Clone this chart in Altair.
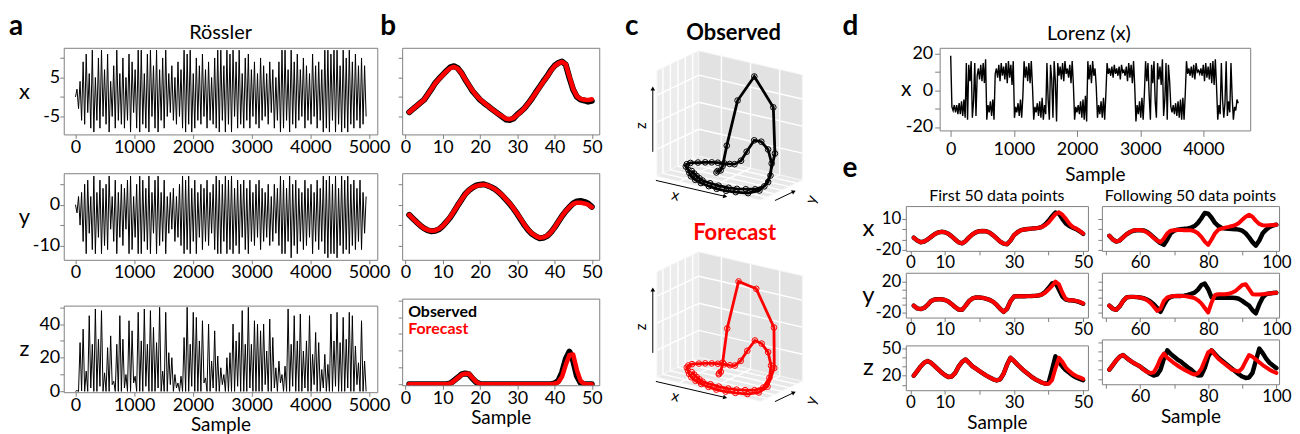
import json
import math
import altair as alt
import numpy as np
import pandas as pd

FONT = "Lato"
GRAY = "#808080"
RED = "#ff0000"

# ------------------------------------------------------------------ data
# Panel a: Rössler time series (alternating troughs/peaks)
ross_last_sample = 4950
ross_x = [
    0, 2, -3, 4, -6, 9, -7, 11, -4, 6, -8, 12, -9, 5, -6, 10, -8, 12, -5, 7,
    -7, 11, -9, 4, -5, 8, -8, 12, -6, 6, -7, 10, -8, 5, -6, 11, -9, 9, -4, 7,
    -8, 12, -9, 12, -7, 6, -8, 11, -9, 12, -5, 8, -8, 12, -9, 7, -6, 10, -8, 12,
    -5, 6, -4, 8, -6, 5, -7, 9, -5, 7, -8, 12, -9, 11, -7, 12, -9, 6, -8, 10,
    -6, 8, -7, 11, -5, 7, -8, 9, -6, 5, -7, 10, -8, 12, -9, 12, -6, 8, -9, 12,
    -7, 11, -9, 12, -5, 9, -8, 12, -7, 6, -8, 10, -6, 11, -8, 7, -5, 9, -7, 6,
    -8, 10, -6, 8, -5, 6, -7, 9, -4, 7, -8, 5, -6, 9, -9, 12, -8, 12, -6, 7,
    -9, 12, -7, 9, -8, 11, -6, 7, -5, 10, -8, 8, -6, 6, -7, 11, -5, 8, -8, 9,
    -6, 7, -9, 12, -8, 12, -9, 11, -6, 12, -9, 12, -7, 8, -9, 12, -8, 10, -9, 12,
    -7, 9, -8, 11, -6, 8, -8, 10, -7, 8, -5,
]
ross_y = [
    0, -2, 2, -5, 3, -9, 5, -12, 6, -7, 2, -11, 7, -12, 3, -8, 6, -12, 4, -10,
    5, -11, 7, -6, 2, -9, 6, -12, 3, -8, 5, -10, 4, -6, 6, -12, 7, -11, 2, -8,
    5, -12, 7, -12, 6, -9, 4, -11, 7, -12, 3, -7, 6, -12, 7, -10, 3, -9, 6, -12,
    2, -7, 3, -6, 4, -9, 2, -8, 5, -10, 7, -12, 6, -11, 7, -12, 4, -9, 6, -12,
    3, -8, 5, -11, 4, -9, 6, -10, 3, -7, 5, -11, 7, -12, 6, -12, 5, -9, 7, -12,
    6, -11, 7, -12, 4, -10, 6, -12, 5, -8, 6, -11, 4, -12, 6, -9, 3, -10, 5, -8,
    6, -11, 4, -9, 3, -8, 5, -10, 2, -9, 5, -7, 4, -10, 7, -12, 6, -12, 4, -9,
    7, -13, 5, -10, 6, -12, 4, -9, 3, -11, 6, -10, 4, -8, 5, -12, 3, -9, 6, -11,
    4, -9, 7, -12, 6, -13, 7, -12, 5, -12, 7, -13, 4, -10, 7, -12, 6, -11, 7, -12,
    5, -10, 6, -11, 4, -9, 6, -11, 3, -7, 2,
]
ross_z = [
    0, 0.5, 0, 29, 0.2, 37, 0, 12, 0, 45, 2, 28, 0, 49, 0, 31, 3, 48, 0, 11,
    0, 26, 0, 33, 4, 6, 0, 28, 0, 45, 0, 31, 2, 10, 0, 42, 0, 36, 5, 9,
    0, 47, 0, 30, 0, 49, 3, 28, 0, 48, 0, 38, 0, 29, 2, 50, 0, 12, 0, 47,
    0, 23, 4, 20, 0, 10, 2, 5, 0, 9, 0, 32, 0, 50, 0, 28, 3, 47, 0, 44,
    0, 30, 0, 42, 5, 8, 0, 40, 0, 18, 2, 36, 0, 21, 0, 14, 4, 10, 0, 20,
    0, 23, 0, 40, 0, 30, 3, 35, 0, 48, 0, 28, 0, 50, 2, 28, 0, 42, 0, 40,
    0, 36, 0, 40, 4, 24, 0, 43, 0, 32, 2, 14, 0, 18, 5, 10, 0, 15, 0, 49,
    0, 28, 3, 45, 0, 30, 0, 46, 0, 24, 2, 30, 0, 45, 0, 22, 4, 35, 0, 29,
    0, 13, 2, 22, 0, 16, 0, 46, 0, 30, 3, 47, 0, 29, 0, 44, 0, 31, 2, 47,
    0, 45, 0, 27, 4, 17, 0, 42, 0, 18, 0,
]

# Panel b: first 50 samples, observed vs forecast
b_sample = list(range(1, 51))
b_x_obs = [-3.9, -3.1, -2.3, -1.5, -0.7, 0.7, 2.1, 3.6, 4.7, 5.7, 6.7, 7.6, 7.9, 7.4, 6.2, 4.5, 3.0,
           1.5, 0.4, -0.7, -1.5, -2.2, -3.0, -3.7, -4.4, -5.1, -5.8, -5.9, -5.5, -4.5, -3.7, -2.8,
           -1.6, -0.3, 1.2, 2.6, 4.0, 5.3, 6.8, 8.0, 8.7, 9.1, 8.3, 4.9, 1.9, 0.0, -0.7, -0.9, -1.2, -1.0]
b_x_fc = [-3.9, -3.1, -2.3, -1.5, -0.7, 0.7, 2.1, 3.5, 4.6, 5.6, 6.6, 7.4, 7.7, 7.3, 6.2, 4.6, 3.1,
          1.6, 0.4, -0.6, -1.4, -2.2, -3.0, -3.7, -4.4, -5.0, -5.6, -5.7, -5.4, -4.6, -3.8, -2.8,
          -1.6, -0.3, 1.1, 2.5, 3.9, 5.2, 6.7, 7.9, 8.6, 9.0, 8.4, 5.2, 2.1, 0.2, -0.5, -0.7, -0.8, -0.6]
b_y_obs = [-2.5, -3.4, -4.3, -5.1, -5.8, -6.3, -6.5, -6.4, -6.0, -5.2, -4.2, -3.1, -1.7, -0.2, 1.2,
           2.6, 3.5, 4.2, 4.7, 4.9, 5.0, 4.7, 4.3, 3.8, 3.1, 2.2, 1.2, 0.2, -1.0, -2.3, -3.7, -5.1,
           -6.3, -7.2, -7.8, -8.2, -8.1, -7.7, -6.8, -5.6, -4.2, -2.8, -1.6, -0.6, 0.3, 0.8, 0.9,
           0.7, 0.3, -0.5]
b_y_fc = [-2.5, -3.4, -4.3, -5.1, -5.8, -6.2, -6.4, -6.3, -5.9, -5.2, -4.2, -3.0, -1.6, -0.2, 1.2,
          2.5, 3.5, 4.2, 4.6, 4.8, 4.9, 4.7, 4.3, 3.8, 3.1, 2.3, 1.3, 0.3, -0.9, -2.2, -3.6, -5.0,
          -6.2, -7.1, -7.7, -8.1, -8.0, -7.6, -6.8, -5.6, -4.2, -2.8, -1.6, -0.6, 0.2, 0.5, 0.5,
          0.3, 0.0, -0.6]
b_z_obs = [0.1, 0.1, 0.1, 0.1, 0.1, 0.1, 0.1, 0.1, 0.1, 0.1, 0.1, 0.6, 2.3, 4.0, 5.9, 6.5, 6.1, 3.4,
           1.3, 0.3, 0.1, 0.1, 0.1, 0.1, 0.1, 0.1, 0.1, 0.1, 0.1, 0.1, 0.1, 0.1, 0.1, 0.1, 0.1, 0.1,
           0.1, 0.1, 0.1, 0.6, 2.0, 7.0, 15.0, 19.5, 14.0, 5.0, 1.0, 0.2, 0.1, 0.1]
b_z_fc = [0.1, 0.1, 0.1, 0.1, 0.1, 0.1, 0.1, 0.1, 0.1, 0.1, 0.1, 0.5, 2.0, 3.8, 5.6, 6.4, 6.3, 3.8,
          1.5, 0.3, 0.1, 0.1, 0.1, 0.1, 0.1, 0.1, 0.1, 0.1, 0.1, 0.1, 0.1, 0.1, 0.1, 0.1, 0.1, 0.1,
          0.1, 0.1, 0.1, 0.4, 1.3, 4.5, 11.5, 17.5, 17.8, 8.5, 2.0, 0.3, 0.1, 0.1]

# Panel d: Lorenz x (alternating oscillation extremes)
lorenz_last_sample = 4550
lorenz_x = [
    19, -9, -11, -8, -12, -8, -13, -7, -13, -6, -14, -5, -15,
    15, -16, 14, 5, 16, -15, -6, 15, -14,
    8, 12, 6, 14, 5, 15, 4, 17,
    -16, -8, -12, -6, -14, -5, -16,
    9, 12, 7, 14, 5, 15, 8, 13, 6, 15, 4, 16, 7, 14, 3, 16,
    -15, -9, -12, -7, -14, -5, -15, -3,
    16, 7, 13, 5, 15, 4, 16, 2,
    -16, -9, -12, -7, -14, -6, -15, -4, -16, -8, -13,
    15, -5, -16, 14, 6, -15, 16, 5, -17, 15,
    8, 13, 6, 15, 5, 16, 9, 12, 7, 14, 4, 16, 3,
    -16, -9, -12, -8, -13, -6, -15, -5, -16, -3, -17,
    16, 6, 14, 4, 16, 8, 12, 2,
    -15, -8, -13, -6, -15, -4, -16, -2,
    15, 9, 12, 8, 13, 7, 14, 9, 12, 8, 13, 6, 14, 10, 11, 8, 13, 5, 15, 7, 14, 4, 16, 2,
    -17, -8, -13, -6, -15, -4, -16, -2,
    16, 5, 15, -3, -16, 14, 4, 16, -6, -15, 15, 6, 13, 3, 17, -14, -5, 15, -16, 14, 5,
    -9, -12, -8, -13, -7, -14, -6, -15, -5, -16, -4, -16, -2,
    16, 9, 12, 8, 13, 7, 14, 6, 15, 10, 11, 9, 12, 8, 14, 5, 15, 7, 13, 6, 15, 4, 16, 3, 17, 2,
    -16, -8, -13, 15, -5, -15, -7, 16, -14, -6, -12, 15, -4, -16, -9, -11, -5, -7,
]

# Panel e: Lorenz forecasts
e_sample_first = list(range(1, 51))
e_sample_next = list(range(51, 101))
e_x_obs_1 = [-8.3, -11, -12.7, -12, -10, -7.5, -5, -3.3, -2.6, -3, -4.5, -7, -10, -12.8, -13.7, -11.5,
             -8, -5, -3, -2, -1.7, -2, -3.5, -6, -9, -12, -14, -14.6, -11, -5.8, -3, -1, -0.3, 0.2,
             0.5, 0.8, 1.2, 2, 4.5, 8, 12.5, 16, 15, 10, 5.5, 3, 1.5, 0, -2, -4.5]
e_x_fc_1 = [-8.3, -11, -12.7, -12, -10, -7.5, -5, -3.3, -2.6, -3, -4.5, -7, -10, -12.8, -13.7, -11.5,
            -8, -5, -3, -2, -1.7, -2, -3.5, -6, -9, -12, -14, -14.6, -11, -5.8, -3, -1, -0.3, 0.2,
            0.5, 0.8, 1.2, 2, 3.7, 6.5, 10.6, 14.7, 16.3, 14, 10, 5.3, 2.1, 0.5, -1.5, -4.2]
e_y_obs_1 = [-11, -14.5, -15.5, -14, -10, -5, -3, -2.5, -2.6, -3.5, -5.5, -9, -13, -16, -16.4, -11,
             -5, -1.5, -0.3, -0.3, -0.8, -2, -3.5, -6, -10, -15, -19, -15, -5, 1, 1.2, 1.3, 1.4,
             1.5, 1.6, 1.8, 2.3, 3.5, 7, 12, 18, 19, 10, 1, -3, -4, -4.2, -5, -6.5, -8.5]
e_y_fc_1 = [-11, -14.5, -15.5, -14, -10, -5, -3, -2.5, -2.6, -3.5, -5.5, -9, -13, -16, -16.4, -11,
            -5, -1.5, -0.3, -0.3, -0.8, -2, -3.5, -6, -10, -15, -19, -15, -5, 1, 1.2, 1.3, 1.4,
            1.5, 1.6, 1.8, 2.3, 3.5, 6, 10, 14.8, 20.4, 17, 6, -2.5, -3.8, -4, -4.7, -6, -8]
e_z_obs_1 = [20, 25, 30, 34, 35.9, 34, 30.5, 27, 23.5, 20.7, 18.5, 19, 23, 30, 35, 37.6, 34, 30,
             27.5, 25, 22.5, 20, 18, 16, 14.7, 16, 22, 32, 39.4, 36, 32, 28.5, 25, 22, 19, 16.4,
             14.5, 12.5, 11.2, 12, 26, 41, 35, 30, 26, 23, 20, 18, 16.5, 15]
e_z_fc_1 = [20, 25, 30, 34, 35.9, 34, 30.5, 27, 23.5, 20.7, 18.5, 19, 23, 30, 35, 37.6, 34, 30,
            27.5, 25, 22.5, 20, 18, 16, 14.7, 16, 22, 32, 39.4, 36, 32, 28.5, 25, 22, 19, 16.4,
            14.5, 12.5, 11.2, 11, 15, 28, 39.4, 35, 28.8, 25, 21.7, 19.5, 18, 16.4]
e_x_obs_2 = [-6.4, -10, -12, -11, -8, -5, -3, -1.5, -1, -1, -1.2, -2.5, -5, -8, -11, -13.5, -15.2,
             -10, -4, -1.5, -0.5, 0, 0.3, 0.7, 1.5, 3, 6, 10.5, 15.7, 15, 11, 6, 3, 1.2, 0.5, 0.3,
             0.2, 0, -0.5, -1.5, -4, -8, -12.5, -15.9, -11, -4, -0.5, 2, 3.5, 4.3]
e_x_fc_2 = [-6.4, -10, -12, -11, -8, -5, -2.8, -1.3, -0.8, -0.8, -1.5, -3, -5.5, -8.5, -11, -12.7,
            -9, -4, -1.5, -1, -0.8, -0.8, -1, -1, -1.2, -2, -4, -7.5, -12, -15.2, -10, -4, -0.5,
            0.5, 1.5, 2.2, 3, 4, 6, 9, 12, 13.8, 12, 8, 5, 3.7, 3.5, 3.8, 4.1, 4.3]
e_y_obs_2 = [-11, -15, -16.4, -12, -5, -0.3, 0.5, 0.5, 0.2, -0.3, -1.2, -3, -5.5, -9, -14, -19, -10,
             -2.5, 0.5, 1.5, 1.8, 1.8, 2, 3, 4.5, 6, 10, 16, 17.8, 10.5, -0.3, -0.8, -0.6, -0.5,
             -0.5, -0.5, -0.6, -1, -2, -4.7, -8, -11, -17, -21, -9, -0.3, 4, 5, 5.5, 6]
e_y_fc_2 = [-11, -15, -16.4, -12, -5, -0.3, 0.5, 0.5, 0.2, -0.3, -1.5, -3.5, -7, -12, -17.7, -15,
            -4.7, -0.3, 1, 1.8, 1.8, 1.8, 1.5, 1, 0, -1.2, -4, -8, -14, -19.8, -6.8, 3, 4, 4, 4,
            4.5, 6, 8.3, 12, 16, 17, 10.5, 4, 3.5, 3.5, 4, 4.5, 5, 5.5, 6]
e_z_obs_2 = [20, 25, 30, 34, 35.9, 33, 30, 27.5, 25.5, 23.5, 20.5, 18, 15.5, 13.6, 14.5, 20, 32, 41,
             37, 34, 31, 28.8, 25.5, 22.5, 20, 16.5, 13.6, 14, 22, 34, 41, 37, 33, 30, 27, 24, 21,
             18, 15, 12.5, 11, 11.5, 16.4, 30, 43, 38, 32, 27.5, 24.5, 21.7]
e_z_fc_2 = [20, 25, 30, 34, 35.9, 33, 30, 27.5, 25.5, 23.5, 20, 17.5, 16.4, 17, 23.5, 32, 37.6, 33,
            30, 27, 24.5, 22, 20, 18, 16, 14.7, 16, 21, 30, 39, 41, 36, 32, 28.8, 26, 23, 20, 19,
            18, 21.7, 29, 35.9, 34, 31, 28, 25, 22.5, 20, 18, 16.4]

# tick values / which tick labels are printed
a_x_ticks = [0, 1000, 2000, 3000, 4000, 5000]
b_x_ticks = [0, 10, 20, 30, 40, 50]
d_x_ticks = [0, 1000, 2000, 3000, 4000]
rx_ticks, rx_labels = [-5, 0, 5, 10], [-5, 5]
ry_ticks, ry_labels = [-10, -5, 0, 5], [-10, 0]
rz_ticks, rz_labels = [0, 10, 20, 30, 40, 50], [0, 20, 40]
lz_ticks, lz_labels = [-20, -10, 0, 10, 20], [-20, 0, 20]
e_first_ticks, e_first_labels = [0, 10, 20, 30, 40, 50], [0, 10, 30, 50]
e_next_ticks, e_next_labels = [50, 60, 70, 80, 90, 100], [60, 80, 100]
ex_ticks, ex_labels = [-20, -10, 0, 10], [-20, 10]
ey_ticks, ey_labels = [-20, -10, 0, 10, 20], [-20, 20]
ez_ticks, ez_labels = [10, 20, 30, 40, 50], [20, 50]

# 3-D box of panel c
BOX_X, BOX_Y, BOX_Z = [-6.5, 9.5], [-8.5, 5.5], [0, 19.5]
GRID_X, GRID_Y, GRID_Z = [-3, 1.5, 6], [-6.5, -4, -1.5, 1, 3.5], [5, 10, 15]
PU, PV, PW = (104, -24), (42, 20), 106


# ------------------------------------------------------------------ helpers
def lab_expr(show):
    return "indexof(%s, datum.value) >= 0 ? toString(datum.value) : ''" % json.dumps(show)


def x_axis(ticks, show, title=None, tick=4, pad=0, fs=18, tpad=1):
    kw = dict(values=ticks, tickSize=tick, labelPadding=pad, labelFontSize=fs, labelFont=FONT,
              labelColor="black", domain=False, grid=False, tickColor=GRAY, labelOverlap=False)
    if show is None:
        kw["labels"] = False
    else:
        kw["labelExpr"] = lab_expr(show)
    if title:
        kw.update(title=title, titleFont=FONT, titleFontSize=19, titleFontWeight="normal",
                  titleColor="black", titlePadding=tpad)
    else:
        kw["title"] = None
    return alt.Axis(**kw)


def y_axis(ticks, show, title=None, tx=0, h=0, tick=4, pad=0, fs=18, tfs=22):
    kw = dict(values=ticks, tickSize=tick, labelPadding=pad, labelFontSize=fs, labelFont=FONT,
              labelColor="black", domain=False, grid=False, tickColor=GRAY, labelOverlap=False)
    if show is None:
        kw["labels"] = False
    else:
        kw["labelExpr"] = lab_expr(show)
    if title:
        kw.update(title=title, titleFont=FONT, titleFontSize=tfs, titleFontWeight="normal",
                  titleColor="black", titleAngle=0, titleX=tx, titleY=h / 2,
                  titleAlign="center", titleBaseline="middle")
    else:
        kw["title"] = None
    return alt.Axis(**kw)


def txt(s, x, y, size, weight="normal", color="black", align="left", opacity=1.0):
    return alt.Chart(pd.DataFrame({"t": [s]})).mark_text(
        font=FONT, fontSize=size, fontWeight=weight, align=align, baseline="alphabetic",
        color=color, opacity=opacity).encode(text="t:N", x=alt.value(x), y=alt.value(y))


LETTER_Y = -13


def letter(ch, x, y=LETTER_Y, opacity=1.0):
    return txt(ch, x, y, 28, "bold", opacity=opacity)


def spacer(w, h, extra=()):
    base = alt.Chart(pd.DataFrame({"t": [""]})).mark_text(opacity=0).encode(
        text="t:N", x=alt.value(0), y=alt.value(0))
    return alt.layer(base, *extra).properties(width=w, height=h,
                                              view=alt.ViewBackground(stroke="transparent"))


def sc(dom):
    return alt.Scale(domain=dom, nice=False, zero=False)


# ------------------------------------------------------------------ panel a
A_W, A_H = 315, 87


def a_panel(vals, ydom, yt, ys, ytitle, xtitle=None, extra=()):
    df = pd.DataFrame({"s": np.linspace(0, ross_last_sample, len(vals)), "v": vals})
    line = alt.Chart(df).mark_line(color="black", strokeWidth=1.0, clip=True).encode(
        x=alt.X("s:Q", scale=sc([-200, 5140]), axis=x_axis(a_x_ticks, a_x_ticks, xtitle)),
        y=alt.Y("v:Q", scale=sc(ydom), axis=y_axis(yt, ys, ytitle, -40, A_H)))
    return alt.layer(line, *extra).properties(width=A_W, height=A_H)


a1 = a_panel(ross_x, [-9.6, 12.6], rx_ticks, rx_labels, "x",
             extra=(letter("a", -55), letter("b", 318),
                    txt("Rössler", A_W / 2, -9, 20, align="center")))
a2 = a_panel(ross_y, [-13.5, 7.7], ry_ticks, ry_labels, "y")
a3 = a_panel(ross_z, [-0.5, 51], rz_ticks, rz_labels, "z", xtitle="Sample")

# ------------------------------------------------------------------ panel b
B_W, B_H = 198, 87


def b_panel(obs, fc, ydom, yt, xtitle=None, extra=()):
    df = pd.DataFrame({"s": b_sample, "obs": obs, "fc": fc})
    base = alt.Chart(df)
    xe = alt.X("s:Q", scale=sc([-0.9, 52]), axis=x_axis(b_x_ticks, b_x_ticks, xtitle))
    l1 = base.mark_line(color="black", strokeWidth=6, strokeCap="round", strokeJoin="round",
                        clip=True).encode(x=xe, y=alt.Y("obs:Q", scale=sc(ydom), axis=y_axis(yt, None)))
    l2 = base.mark_line(color=RED, strokeWidth=4.5, strokeCap="round", strokeJoin="round",
                        clip=True).encode(x=xe, y=alt.Y("fc:Q", scale=sc(ydom), axis=y_axis(yt, None)))
    return alt.layer(l1, l2, *extra).properties(width=B_W, height=B_H)


b1 = b_panel(b_x_obs, b_x_fc, [-9.6, 12.6], rx_ticks, extra=(letter("b", 50, opacity=0),))
b2 = b_panel(b_y_obs, b_y_fc, [-13.5, 7.7], ry_ticks)
b3 = b_panel(b_z_obs, b_z_fc, [-0.5, 51], rz_ticks, xtitle="Sample",
             extra=(txt("Observed", 6, 18, 16, "bold"), txt("Forecast", 6, 36, 16, "bold", RED)))

# ------------------------------------------------------------------ panel c
C_W, C_H = 230, 165
C_XD, C_YD = [-53, 177], [-36, 129]


def proj(ch, xf, yf, zf, ox, oy):
    u = "((datum.%s-(%s))/%s)" % (xf, BOX_X[0], BOX_X[1] - BOX_X[0])
    v = "((datum.%s-(%s))/%s)" % (yf, BOX_Y[0], BOX_Y[1] - BOX_Y[0])
    w = "((datum.%s-(%s))/%s)" % (zf, BOX_Z[0], BOX_Z[1] - BOX_Z[0])
    return ch.transform_calculate(**{
        ox: "%s*%s+%s*%s" % (PU[0], u, PV[0], v),
        oy: "%s*%s+%s*%s+%s*%s" % (PU[1], u, PV[1], v, PW, w),
    })


x0, x1 = BOX_X
y0, y1 = BOX_Y
z0, z1 = BOX_Z
rx, ry, rz = x1 - x0, y1 - y0, z1 - z0
panes = {
    "left": ([(x0, y0, z0), (x0, y1, z0), (x0, y1, z1), (x0, y0, z1), (x0, y0, z0)], "#ececec"),
    "right": ([(x0, y1, z0), (x1, y1, z0), (x1, y1, z1), (x0, y1, z1), (x0, y1, z0)], "#e2e2e2"),
    "floor": ([(x0, y0, z0), (x1, y0, z0), (x1, y1, z0), (x0, y1, z0), (x0, y0, z0)], "#e8e8e8"),
}
segs = []
for gy in GRID_Y:
    segs.append((x0, gy, z0, x0, gy, z1))
    segs.append((x0, gy, z0, x1, gy, z0))
for gz in GRID_Z:
    segs.append((x0, y0, gz, x0, y1, gz))
    segs.append((x0, y1, gz, x1, y1, gz))
for gx in GRID_X:
    segs.append((gx, y1, z0, gx, y1, z1))
    segs.append((gx, y0, z0, gx, y1, z0))
seg_df = pd.DataFrame(segs, columns=["X", "Y", "Z", "X2", "Y2", "Z2"])

arrows = [  # start, end in box fractions
    ((x0 + 0.05 * rx, y0 - 0.15 * ry, z0), (x0 + 0.72 * rx, y0 - 0.15 * ry, z0)),
    ((x0, y0 - 0.1 * ry, z0 + 0.25 * rz), (x0, y0 - 0.1 * ry, z0 + 0.85 * rz)),
    ((x1 + 0.1 * rx, y0 + 0.1 * ry, z0), (x1 + 0.1 * rx, y0 + 0.55 * ry, z0)),
]
arr_df = pd.DataFrame([a + b for a, b in arrows], columns=["X", "Y", "Z", "X2", "Y2", "Z2"])


def screen_dir(a, b):
    du = (b[0] - a[0]) / rx
    dv = (b[1] - a[1]) / ry
    dw = (b[2] - a[2]) / rz
    ax = PU[0] * du + PV[0] * dv
    ay = PU[1] * du + PV[1] * dv + PW * dw
    return math.degrees(math.atan2(ax, ay)) % 360


head_df = pd.DataFrame([dict(X=b[0], Y=b[1], Z=b[2], ang=screen_dir(a, b)) for a, b in arrows])
lab_df = pd.DataFrame([
    dict(X=x0 + 0.38 * rx, Y=y0 - 0.5 * ry, Z=z0, t="x", ang=13),
    dict(X=x0, Y=y0 - 0.38 * ry, Z=z0 + 0.55 * rz, t="z", ang=270),
    dict(X=x1 + 0.32 * rx, Y=y0 + 0.42 * ry, Z=z0, t="y", ang=290),
])


def c_panel(X, Y, Z, color, extra=()):
    xe = alt.X("px:Q", scale=sc(C_XD), axis=None)
    ye = alt.Y("py:Q", scale=sc(C_YD), axis=None)
    layers = []
    for name, (pts, fill) in panes.items():
        pdf = pd.DataFrame([dict(X=p[0], Y=p[1], Z=p[2], k=i) for i, p in enumerate(pts)])
        layers.append(proj(alt.Chart(pdf), "X", "Y", "Z", "px", "py").mark_line(
            fill=fill, stroke="#f5f5f5", strokeWidth=1).encode(x=xe, y=ye, order="k:Q"))
    g = proj(proj(alt.Chart(seg_df), "X", "Y", "Z", "px", "py"), "X2", "Y2", "Z2", "px2", "py2")
    layers.append(g.mark_rule(color="white", strokeWidth=1.4).encode(x=xe, y=ye, x2="px2:Q", y2="py2:Q"))
    tdf = pd.DataFrame({"X": X, "Y": Y, "Z": Z, "k": list(range(len(X)))})
    t = proj(alt.Chart(tdf), "X", "Y", "Z", "px", "py")
    layers.append(t.mark_line(color=color, strokeWidth=2.8).encode(x=xe, y=ye, order="k:Q"))
    layers.append(t.mark_point(shape="circle", size=32, filled=False, color=color, strokeWidth=1,
                               opacity=1).encode(x=xe, y=ye))
    ar = proj(proj(alt.Chart(arr_df), "X", "Y", "Z", "px", "py"), "X2", "Y2", "Z2", "px2", "py2")
    layers.append(ar.mark_rule(color="black", strokeWidth=1).encode(x=xe, y=ye, x2="px2:Q", y2="py2:Q"))
    layers.append(proj(alt.Chart(head_df), "X", "Y", "Z", "px", "py").mark_point(
        shape="triangle-up", filled=True, size=22, color="black", opacity=1).encode(
        x=xe, y=ye, angle=alt.Angle("ang:Q", scale=None)))
    layers.append(proj(alt.Chart(lab_df), "X", "Y", "Z", "px", "py").mark_text(
        font=FONT, fontSize=15, color="black").encode(
        x=xe, y=ye, text="t:N", angle=alt.Angle("ang:Q", scale=None)))
    return alt.layer(*layers, *extra).properties(
        width=C_W, height=C_H, view=alt.ViewBackground(stroke="transparent"))


c1 = c_panel(b_x_obs, b_y_obs, b_z_obs, "black",
             extra=(letter("c", 21), txt("Observed", 130, -8, 22, "bold", align="center")))
c2 = c_panel(b_x_fc, b_y_fc, b_z_fc, RED,
             extra=(txt("Forecast", 131, -9, 22, "bold", RED, align="center"),))

# ------------------------------------------------------------------ panel d
D_W, D_H = 312, 83
d_df = pd.DataFrame({"s": np.linspace(0, lorenz_last_sample, len(lorenz_x)), "v": lorenz_x})
d_line = alt.Chart(d_df).mark_line(color="black", strokeWidth=1.4, clip=True).encode(
    x=alt.X("s:Q", scale=sc([-175, 4740]),
            axis=x_axis(d_x_ticks, d_x_ticks, "Sample", tick=6, pad=4, tpad=7)),
    y=alt.Y("v:Q", scale=sc([-21.9, 23.3]),
            axis=y_axis(lz_ticks, lz_labels, "x", -34, D_H, tick=5, pad=2, tfs=21)))
d = alt.layer(d_line, txt("Lorenz (x)", 150, -8, 20, align="center")).properties(width=D_W, height=D_H)
# left spacer carrying the panel letters d and e
sp_d = spacer(64.5, D_H, extra=(letter("d", 7.5), letter("e", 7.5, 130)))

# ------------------------------------------------------------------ panel e
E_H = 45


def e_panel(samples, obs, fc, xdom, xt, xl, ydom, yt, yl, ytitle, width, xtitle=None,
            header=None, extra=()):
    df = pd.DataFrame({"s": samples, "obs": obs, "fc": fc})
    base = alt.Chart(df)
    xe = alt.X("s:Q", scale=sc(xdom), axis=x_axis(xt, xl, xtitle, tick=4, pad=0, fs=17, tpad=3))
    if yl is None:
        ya = y_axis(yt, None)
    else:
        ya = y_axis(yt, yl, ytitle, -38, E_H, tick=4, pad=1, fs=17, tfs=24)
    l1 = base.mark_line(color="black", strokeWidth=4.5, strokeCap="round", strokeJoin="round",
                        clip=True).encode(x=xe, y=alt.Y("obs:Q", scale=sc(ydom), axis=ya))
    l2 = base.mark_line(color=RED, strokeWidth=4, strokeCap="round", strokeJoin="round",
                        clip=True).encode(x=xe, y=alt.Y("fc:Q", scale=sc(ydom), axis=ya))
    ch = alt.layer(l1, l2, *extra).properties(width=width, height=E_H)
    if header:
        ch = ch.properties(title=alt.TitleParams(header, font=FONT, fontSize=16, fontWeight="normal",
                                                 offset=2, color="black"))
    return ch


EL_W, ER_W = 183, 178
XD1, XD2 = [-1.3, 51.4], [48.8, 100.8]
YDX, YDY, YDZ = [-21, 22.3], [-26.5, 32], [4.1, 52.9]
e1l = e_panel(e_sample_first, e_x_obs_1, e_x_fc_1, XD1, e_first_ticks, e_first_labels, YDX, ex_ticks,
              ex_labels, "x", EL_W, header="First 50 data points")
e2l = e_panel(e_sample_first, e_y_obs_1, e_y_fc_1, XD1, e_first_ticks, e_first_labels, YDY, ey_ticks,
              ey_labels, "y", EL_W)
e3l = e_panel(e_sample_first, e_z_obs_1, e_z_fc_1, XD1, e_first_ticks, e_first_labels, YDZ, ez_ticks,
              ez_labels, "z", EL_W, xtitle="Sample")
e1r = e_panel(e_sample_next, e_x_obs_2, e_x_fc_2, XD2, e_next_ticks, e_next_labels, YDX, ex_ticks,
              None, None, ER_W, header="Following 50 data points")
e2r = e_panel(e_sample_next, e_y_obs_2, e_y_fc_2, XD2, e_next_ticks, e_next_labels, YDY, ey_ticks,
              None, None, ER_W)
e3r = e_panel(e_sample_next, e_z_obs_2, e_z_fc_2, XD2, e_next_ticks, e_next_labels, YDZ, ez_ticks,
              None, None, ER_W, xtitle="Sample")
sp_e = spacer(25.3, 4)

# ------------------------------------------------------------------ layout
col_a = alt.vconcat(a1, a2, a3, spacing=15)
col_b = alt.vconcat(b1, b2, b3, spacing=15)
col_c = alt.vconcat(c1, c2, spacing=8)
e_grid = alt.hconcat(alt.vconcat(e1l, e2l, e3l, spacing=0),
                     alt.vconcat(e1r, e2r, e3r, spacing=0), spacing=3)
e_block = alt.hconcat(sp_e, e_grid, spacing=0)
d_row = alt.hconcat(sp_d, d, spacing=0)
col_de = alt.vconcat(d_row, e_block, spacing=2)

chart = alt.hconcat(col_a, col_b, col_c, col_de, spacing=0).properties(
    padding={"left": 0, "top": 3, "right": 0, "bottom": 0}
).configure_view(stroke=GRAY, strokeWidth=1).configure_text(font=FONT).configure_title(font=FONT)

chart.save("out.html", embed_options={"renderer": "svg", "actions": False})
